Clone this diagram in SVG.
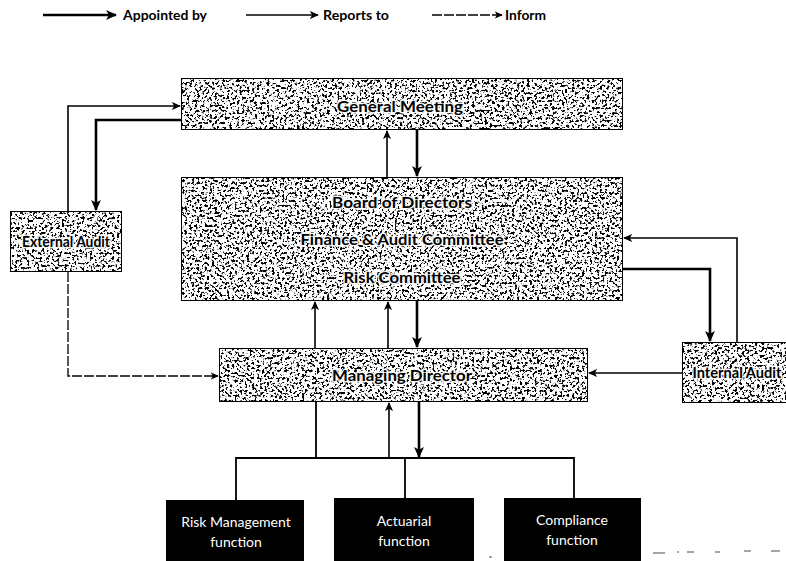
<svg xmlns="http://www.w3.org/2000/svg" width="786" height="561" viewBox="0 0 786 561">
<style>
  .box { stroke: #000; stroke-width: 2; fill: #fff; filter: url(#speckle); }
  .blk { fill: #000; }
  .bt { font-family: Lato, "Liberation Sans", sans-serif; font-weight: bold; font-size: 15px; fill: #000; text-anchor: middle; stroke: #fff; stroke-width: 3px; stroke-opacity: 0.9; paint-order: stroke; stroke-linejoin: round; }
  .wt { font-family: Lato, "Liberation Sans", sans-serif; font-size: 14px; fill: #fff; text-anchor: middle; }
  .lg { font-family: Lato, "Liberation Sans", sans-serif; font-weight: bold; font-size: 13px; fill: #000; }
  .thick { fill: none; stroke: #000; stroke-width: 2.6; marker-end: url(#aBig); }
  .med { fill: none; stroke: #000; stroke-width: 1.6; marker-end: url(#aMid); }
  .thin { fill: none; stroke: #000; stroke-width: 1.3; stroke-dasharray: 10 2; marker-end: url(#aSmall); }
  .line { fill: none; stroke: #000; stroke-width: 1.8; }
  .art { stroke: #888; stroke-width: 1.5; }
</style>
<defs>
  <filter id="speckle" x="0" y="0" width="1" height="1" color-interpolation-filters="sRGB">
    <feTurbulence type="fractalNoise" baseFrequency="0.4" numOctaves="3" seed="5" result="n"/>
    <feColorMatrix in="n" type="matrix" values="0 0 0 0 0  0 0 0 0 0  0 0 0 0 0  1 0 0 0 0" result="a"/>
    <feComponentTransfer in="a" result="t"><feFuncA type="linear" slope="12" intercept="-6.45"/></feComponentTransfer>
    <feComposite in="t" in2="SourceGraphic" operator="atop"/>
  </filter>
  <marker id="aBig" viewBox="0 0 10 10" refX="9" refY="5" markerWidth="11" markerHeight="11" orient="auto" markerUnits="userSpaceOnUse">
    <path d="M0,0.5 L10,5 L0,9.5 L2.5,5 z" fill="#000"/>
  </marker>
  <marker id="aMid" viewBox="0 0 10 10" refX="9" refY="5" markerWidth="9" markerHeight="9" orient="auto" markerUnits="userSpaceOnUse">
    <path d="M0,0.5 L10,5 L0,9.5 L2.5,5 z" fill="#000"/>
  </marker>
  <marker id="aSmall" viewBox="0 0 10 10" refX="9" refY="5" markerWidth="8" markerHeight="8" orient="auto" markerUnits="userSpaceOnUse">
    <path d="M0,0.5 L10,5 L0,9.5 L2.5,5 z" fill="#000"/>
  </marker>
</defs>

<g id="legend">
  <path class="thick" d="M43,15 H116"/>
  <text class="lg" x="123" y="20" textLength="84" lengthAdjust="spacingAndGlyphs">Appointed by</text>
  <path class="med" d="M246,15 H318"/>
  <text class="lg" x="323" y="20" textLength="66" lengthAdjust="spacingAndGlyphs">Reports to</text>
  <path class="thin" d="M432,15 H502"/>
  <text class="lg" x="505" y="20" textLength="41" lengthAdjust="spacingAndGlyphs">Inform</text>
</g>

<g id="connectors">
  <path class="med" d="M68,211 V106 H180"/>
  <path class="thick" d="M181,120 H96 V210"/>
  <path class="med" d="M387,177 V131"/>
  <path class="thick" d="M417,130 V176"/>
  <path class="med" d="M315,348 V302"/>
  <path class="med" d="M388,348 V302"/>
  <path class="thick" d="M417,301 V347"/>
  <path class="thick" d="M623,269 H710 V341"/>
  <path class="med" d="M737,342 V238 H624"/>
  <path class="med" d="M682,373 H589"/>
  <path class="thin" d="M68,272 V376 H218"/>
  <path class="line" d="M316,402 V458"/>
  <path class="med" d="M389,458 V403"/>
  <path class="thick" d="M419,402 V457"/>
  <path class="line" d="M236,458 H574 M236,457 V500 M405,457 V498 M574,457 V498"/>
</g>

<g id="general-meeting">
  <rect class="box" x="181" y="78" width="442" height="52"/>
  <text class="bt" x="400" y="112" textLength="126" lengthAdjust="spacingAndGlyphs">General Meeting</text>
</g>
<g id="board">
  <rect class="box" x="181" y="177" width="442" height="124"/>
  <text class="bt" x="402" y="208" textLength="140" lengthAdjust="spacingAndGlyphs">Board of Directors</text>
  <text class="bt" x="402" y="245" textLength="203" lengthAdjust="spacingAndGlyphs">Finance &amp; Audit Committee</text>
  <text class="bt" x="402" y="283" textLength="117" lengthAdjust="spacingAndGlyphs">Risk Committee</text>
</g>
<g id="external-audit">
  <rect class="box" x="10" y="211" width="112" height="61"/>
  <text class="bt" x="66" y="247" textLength="88" lengthAdjust="spacingAndGlyphs">External Audit</text>
</g>
<g id="internal-audit">
  <rect class="box" x="682" y="342" width="112" height="61"/>
  <text class="bt" x="737" y="378" textLength="89" lengthAdjust="spacingAndGlyphs">Internal Audit</text>
</g>
<g id="managing-director">
  <rect class="box" x="219" y="348" width="369" height="54"/>
  <text class="bt" x="402" y="381" textLength="140" lengthAdjust="spacingAndGlyphs">Managing Director</text>
</g>
<g id="risk-management">
  <rect class="blk" x="166" y="500" width="138" height="70"/>
  <text class="wt" x="236" y="527">Risk Management</text>
  <text class="wt" x="236" y="547">function</text>
</g>
<g id="actuarial">
  <rect class="blk" x="334" y="498" width="140" height="70"/>
  <text class="wt" x="404" y="526">Actuarial</text>
  <text class="wt" x="404" y="546">function</text>
</g>
<g id="compliance">
  <rect class="blk" x="504" y="498" width="137" height="70"/>
  <text class="wt" x="572" y="525">Compliance</text>
  <text class="wt" x="572" y="545">function</text>
</g>

<g id="artifacts">
  <path class="art" d="M653,553 H665 M677,552 H679 M687,552 H694 M715,552 H720 M744,551 H751 M771,551 H780 M489,557 H492"/>
</g>
</svg>
